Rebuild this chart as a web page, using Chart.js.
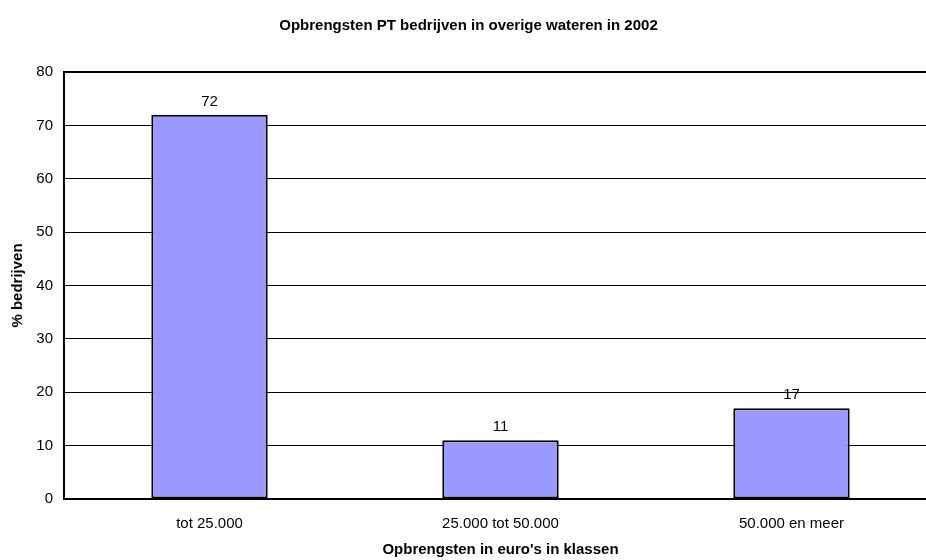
<!DOCTYPE html>
<html>
<head>
<meta charset="utf-8">
<script src="https://cdn.jsdelivr.net/npm/chart.js@4/dist/chart.umd.min.js"></script>
<style>
  html, body { margin: 0; padding: 0; background: #fff; overflow: hidden; }
  #wrap { width: 940px; height: 560px; }
</style>
</head>
<body>
<div id="wrap"><canvas id="chart"></canvas></div>
<script>
var categories = ['tot 25.000', '25.000 tot 50.000', '50.000 en meer'];
var percentages = [72, 11, 17];
var yTicks = [0, 10, 20, 30, 40, 50, 60, 70, 80];

var FONT = "'Liberation Sans', Arial, sans-serif";

// waarden boven de staven tekenen
var valueLabels = {
    id: 'valueLabels',
    afterDatasetsDraw: function (chart) {
        var ctx = chart.ctx;
        var meta = chart.getDatasetMeta(0);
        ctx.save();
        ctx.font = '15px ' + FONT;
        ctx.fillStyle = '#000';
        ctx.textAlign = 'center';
        ctx.textBaseline = 'middle';
        meta.data.forEach(function (bar, i) {
            ctx.fillText(String(percentages[i]), bar.x, bar.y - 13);
        });
        ctx.restore();
    }
};

var ctx = document.getElementById('chart').getContext('2d');
var chart = new Chart(ctx, {
    type: 'bar',
    data: {
        labels: categories,
        datasets: [{
            data: percentages,
            backgroundColor: '#9999ff',
            borderColor: '#000',
            borderWidth: 2,
            borderSkipped: false,
            barPercentage: 0.4,
            categoryPercentage: 1
        }]
    },
    options: {
        responsive: true,
        maintainAspectRatio: false,
        animation: false,
        layout: { padding: { left: 0, right: 3, top: 0, bottom: 0 } },
        plugins: {
            legend: { display: false },
            tooltip: { enabled: false },
            title: {
                display: true,
                text: 'Opbrengsten PT bedrijven in overige wateren in 2002',
                color: '#000',
                font: { family: FONT, size: 15, weight: 'bold', lineHeight: 1.2 },
                padding: { top: 17, bottom: 37 }
            }
        },
        scales: {
            x: {
                grid: { display: false },
                border: { display: true, color: '#000', width: 2 },
                ticks: { color: '#000', font: { family: FONT, size: 15 }, padding: 8, maxRotation: 0 },
                title: {
                    display: true,
                    text: "Opbrengsten in euro's in klassen",
                    color: '#000',
                    font: { family: FONT, size: 15, weight: 'bold', lineHeight: 1.2 },
                    padding: { top: 0, bottom: 1 }
                },
                afterFit: function (scale) { scale.height = 61; }
            },
            y: {
                min: 0,
                max: 80,
                afterBuildTicks: function (scale) {
                    scale.ticks = yTicks.map(function (v) { return { value: v }; });
                },
                grid: {
                    color: '#000',
                    lineWidth: function (c) { return c.tick && c.tick.value === 80 ? 2 : 1; },
                    drawTicks: false
                },
                border: { display: true, color: '#000', width: 2 },
                ticks: { color: '#000', font: { family: FONT, size: 15 }, padding: 11 },
                title: {
                    display: true,
                    text: '% bedrijven',
                    color: '#000',
                    font: { family: FONT, size: 15, weight: 'bold', lineHeight: 1.2 },
                    padding: { top: 9, bottom: 0 }
                },
                afterFit: function (scale) { scale.width = 64; }
            }
        }
    },
    plugins: [valueLabels]
});
</script>
</body>
</html>
